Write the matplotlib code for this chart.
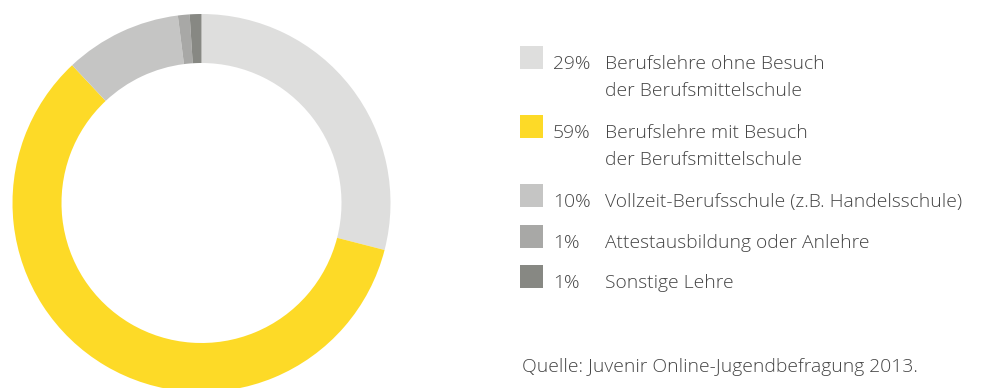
import matplotlib
matplotlib.use("Agg")
import matplotlib.pyplot as plt
from matplotlib.patches import Rectangle

# Ausbildungsart nach der obligatorischen Schule
shares = [29, 59, 10, 1, 1]
pct_labels = ["29%", "59%", "10%", "1%", "1%"]
labels = [
    "Berufslehre ohne Besuch\nder Berufsmittelschule",
    "Berufslehre mit Besuch\nder Berufsmittelschule",
    "Vollzeit-Berufsschule (z.B. Handelsschule)",
    "Attestausbildung oder Anlehre",
    "Sonstige Lehre",
]
colors = ["#dededd", "#fdda27", "#c5c5c4", "#a8a8a6", "#878883"]
source = "Quelle: Juvenir Online-Jugendbefragung 2013."

W, H = 989, 388
fig = plt.figure(figsize=(W / 100, H / 100), dpi=100)
ax = fig.add_axes([0, 0, 1, 1])

ax.pie(shares, colors=colors, startangle=90, counterclock=False,
       radius=189, center=(201.5, H - 203),
       wedgeprops=dict(width=49, linewidth=0))

ax.set_xlim(0, W)
ax.set_ylim(0, H)
ax.set_aspect("equal")
ax.axis("off")

font = dict(family="Open Sans", weight="light", size=13.9, color="#454545")

# Legend rows: baseline of first line (pixels from top)
baselines = [69, 138, 207, 248, 288]
line_gap = 27
for base, col, pct, lab in zip(baselines, colors, pct_labels, labels):
    ax.add_patch(Rectangle((520, H - base), 23, 23, facecolor=col, edgecolor="none"))
    ax.text(553, H - base, pct, va="baseline", ha="left", **font)
    for i, line in enumerate(lab.split("\n")):
        ax.text(605, H - base - i * line_gap, line, va="baseline", ha="left", **font)

ax.text(522, H - 372, source, va="baseline", ha="left", **font)

fig.savefig("out.png", dpi=100)
